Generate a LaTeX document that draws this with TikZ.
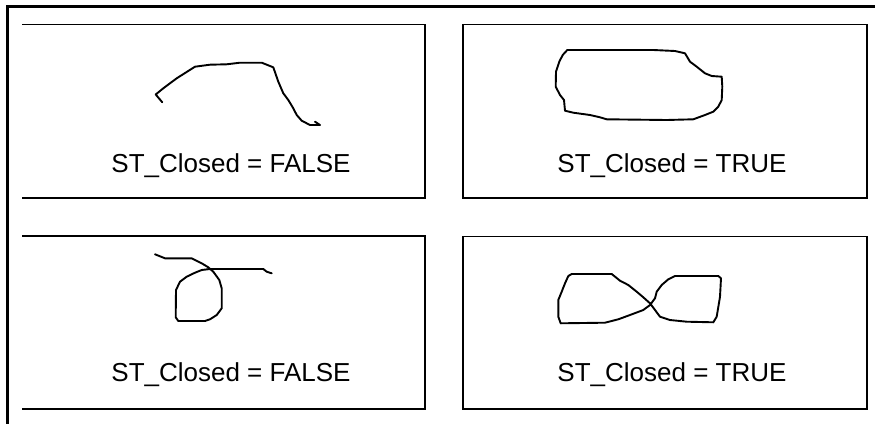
\documentclass[tikz,border=0pt]{standalone}
\usepackage{fontspec}
\setmainfont{Liberation Sans}
\tikzset{
  frame/.style={line width=2.6pt, line cap=rect},
  box/.style={line width=1.6pt},
  ink/.style={line width=1.9pt, line join=round, line cap=round},
  lbl/.style={anchor=base, inner sep=0pt, font=\fontsize{26}{30}\selectfont}
}
\begin{document}
\begin{tikzpicture}[x=1pt,y=-1pt]
\useasboundingbox (0,0) rectangle (875,423);
% outer frame (open to the right and bottom)
\draw[frame] (7.5,430) -- (7.5,6.5) -- (880,6.5);
% boxes (left ones have no left edge)
\draw[box] (22,24.5) -- (425,24.5) -- (425,198) -- (22,198);
\draw[box] (22,236) -- (425,236) -- (425,409) -- (22,409);
\draw[box] (463,24.5) rectangle (867,198);
\draw[box] (463,236.5) rectangle (867,409);
% labels
\node[lbl] (t1) at (231,172) {ST\_Closed = FALSE};
\node[lbl] (t2) at (672,172) {ST\_Closed = TRUE};
\node[lbl] (t3) at (231,381) {ST\_Closed = FALSE};
\node[lbl] (t4) at (672,381) {ST\_Closed = TRUE};
% curve 1: open arc
\draw[ink] (162.3,102.3) -- (155.7,94.5) -- (163.3,88.3) -- (176.7,78.3) -- (195,66.7)
  -- (210,64.7) -- (226.7,64.3) -- (240,62.7) -- (261.7,62.7) -- (273.3,67.3)
  -- (278.3,81.7) -- (283.3,93.3) -- (288.3,100) -- (293.3,108.3) -- (296.7,115)
  -- (301.7,120.7) -- (310,125) -- (320,125) -- (315,121.7);
% curve 2: closed blob
\draw[ink] (567.3,50) -- (606.7,50) -- (653.3,50) -- (675,51) -- (685,53.3)
  -- (690,61.7) -- (696.7,66.7) -- (705,73.3) -- (711.7,76) -- (721.7,76.7)
  -- (722.3,86.7) -- (721.7,100) -- (718.3,106.7) -- (713.3,111.7) -- (705,115)
  -- (693.3,119.3) -- (666.7,120) -- (606.7,119.3) -- (600,117.3) -- (590,115)
  -- (573.3,112.7) -- (565,110.7) -- (564,100) -- (560,95) -- (555.7,86.7)
  -- (556,71.7) -- (559.3,61.7) -- (562.7,55) -- cycle;
% curve 3: loop with open ends
\draw[ink] (155,254.3) -- (165,258.3) -- (191.7,258.3) -- (201.7,263.3) -- (208.3,267.3)
  -- (213.3,271.7) -- (219.3,280) -- (221.7,288.3) -- (221.7,308.3) -- (216.7,315)
  -- (210,319.3) -- (205,321) -- (178.3,321) -- (175.7,317.3) -- (176,290)
  -- (180,281.7) -- (186.7,276.7) -- (195,272.7) -- (201.7,270) -- (210,269)
  -- (263.3,269) -- (266.7,271.7) -- (271.7,273.3);
% curve 4: figure eight
\draw[ink] (571.7,274) -- (611.7,274) -- (620,280.7) -- (628.3,285) -- (636.7,291.7)
  -- (643.3,297.3) -- (650,303.3) -- (655,310) -- (660,316.7) -- (670,320)
  -- (686.7,321.7) -- (713.3,322.3) -- (716.7,316.7) -- (720,296.7) -- (721,278.3)
  -- (718.3,276) -- (675,276) -- (668.3,279.3) -- (661.7,285) -- (656.7,291.7)
  -- (655,298.3) -- (650,305) -- (643.3,310) -- (630,315) -- (618.3,319.3)
  -- (605,322.7) -- (560.7,323.3) -- (558.3,316.7) -- (558.3,300) -- (561.7,291.7)
  -- (565,283.3) -- (568.3,276) -- cycle;
\end{tikzpicture}
\end{document}
